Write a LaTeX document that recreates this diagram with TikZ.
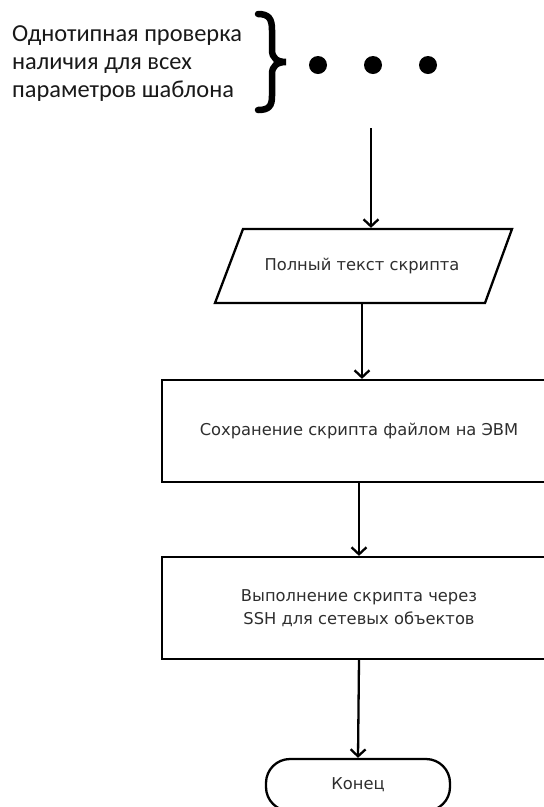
\documentclass[tikz,border=0pt]{standalone}
\usepackage{fontspec}
\setmainfont{DejaVu Sans}
\newfontfamily\calib{Carlito}
\usetikzlibrary{arrows.meta}
\definecolor{txt}{HTML}{2E2E2E}
\begin{document}
\begin{tikzpicture}[x=1pt,y=-1pt,
  line width=2.3pt,
  box/.style={draw, line width=2.3pt, minimum width=394pt, minimum height=102pt, inner sep=0pt, align=center, font=\fontsize{16.3}{23}\selectfont, text=txt},
  arr/.style={-{Straight Barb[length=7pt,width=15pt,line width=2.3pt]}, line width=2.3pt},
  dot/.style={circle, fill=black, minimum size=18pt, inner sep=0pt}]
\useasboundingbox (0,0) rectangle (544,807);
\clip (0,0) rectangle (544,807);
% left note
\node[anchor=north west, align=left, inner sep=0pt, text=black!90,
      font=\calib\fontsize{24.4}{28}\selectfont] (note) at (11,25)
  {Однотипная проверка\\наличия для всех\\параметров шаблона};
% brace
\draw[line width=6.5pt, line cap=round]
  (258,14) .. controls (269,14) and (272,19) .. (272,30) -- (272,50)
  .. controls (272,58) and (277,62) .. (286,62)
  .. controls (277,62) and (272,66) .. (272,74) -- (272,96)
  .. controls (272,106) and (269,110) .. (258,110);
% dots
\node[dot] (d1) at (318,65) {};
\node[dot] (d2) at (373,65) {};
\node[dot] (d3) at (428,65) {};
% parallelogram
\draw[line width=2.3pt] (243,229) -- (512,229) -- (485,303) -- (215,303) -- cycle;
\node[inner sep=0pt, minimum height=74pt, text=txt, font=\fontsize{16.3}{20}\selectfont] (in) at (362,266) {Полный текст скрипта};
% boxes
\node[box] (b1) at (359,431) {Сохранение скрипта файлом на ЭВМ};
\node[box] (b2) at (359,608) {Выполнение скрипта через\\ SSH для сетевых объектов};
\node[draw, line width=2.3pt, rounded corners=24pt, minimum width=184pt, minimum height=52pt, inner sep=0pt, text=txt, font=\fontsize{16.3}{20}\selectfont] (end) at (358,785) {Конец};
% connectors
\coordinate (s) at (371,128);
\draw[arr] (s) -- (s |- in.north);
\draw[arr] (in.south) -- (in.south |- b1.north);
\draw[arr] (b1.south) -- (b2.north);
\draw[arr] (b2.south) -- (end.north);
\end{tikzpicture}
\end{document}
